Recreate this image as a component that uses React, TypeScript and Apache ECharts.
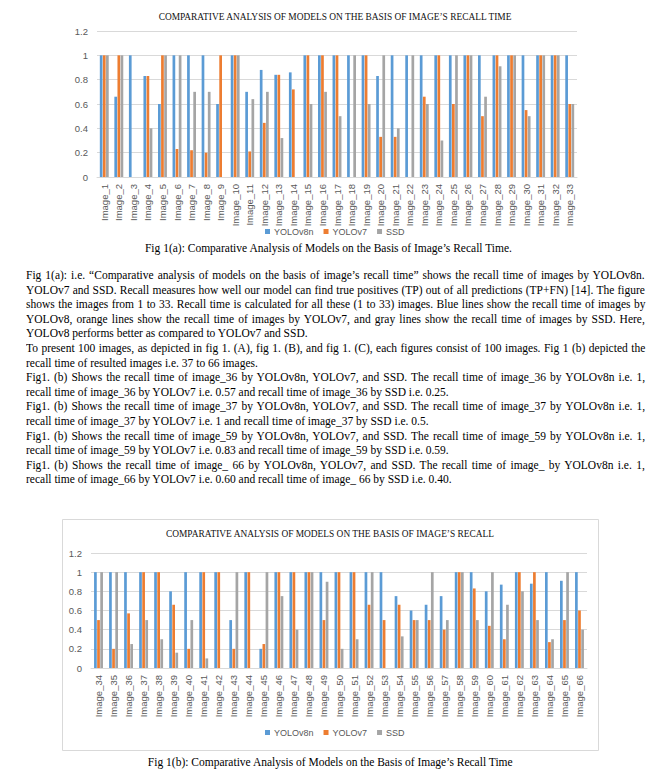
import React, { useEffect, useLayoutEffect, useRef } from "react";
import * as echarts from "echarts";

const SERIES_NAMES = ["YOLOv8n", "YOLOv7", "SSD"];
const SERIES_COLORS = ["#5B9BD5", "#ED7D31", "#A5A5A5"];

const TITLE_A = "COMPARATIVE ANALYSIS OF MODELS ON THE BASIS OF IMAGE’S RECALL TIME";
const TITLE_B = "COMPARATIVE ANALYSIS OF MODELS ON THE BASIS OF IMAGE’S RECALL";

const categoriesA = [
  "Image_1", "Image_2", "Image_3", "Image_4", "Image_5", "Image_6", "Image_7", "Image_8", "Image_9",
  "Image_10", "Image_11", "Image_12", "Image_13", "Image_14", "Image_15", "Image_16", "Image_17",
  "Image_18", "Image_19", "Image_20", "Image_21", "Image_22", "Image_23", "Image_24", "Image_25",
  "Image_26", "Image_27", "Image_28", "Image_29", "Image_30", "Image_31", "Image_32", "Image_33",
];
const yolov8nA = [1, 0.66, 1, 0.83, 0.6, 1, 1, 1, 0.6, 1, 0.7, 0.88, 0.84, 0.86, 1, 1, 1, 1, 1, 0.83, 1, 1, 1, 1, 1, 1, 1, 1, 1, 1, 1, 1, 1];
const yolov7A = [1, 1, 0, 0.83, 1, 0.23, 0.22, 0.2, 1, 1, 0.21, 0.445, 0.84, 0.72, 1, 1, 1, 0, 1, 0.33, 0.33, 0, 0.66, 1, 0.6, 1, 0.5, 1, 1, 0.55, 1, 1, 0.6];
const ssdA = [1, 1, 0, 0.4, 1, 1, 0.7, 0.7, 0, 1, 0.64, 0.7, 0.32, 0, 0.6, 0.7, 0.5, 1, 0.6, 1, 0.4, 1, 0.6, 0.3, 1, 1, 0.66, 0.91, 1, 0.5, 1, 1, 0.6];

const categoriesB = [
  "Image_34", "Image_35", "Image_36", "Image_37", "Image_38", "Image_39", "Image_40", "Image_41",
  "Image_42", "Image_43", "Image_44", "Image_45", "Image_46", "Image_47", "Image_48", "Image_49",
  "Image_50", "Image_51", "Image_52", "Image_53", "Image_54", "Image_55", "Image_56", "Image_57",
  "Image_58", "Image_59", "Image_60", "Image_61", "Image_62", "Image_63", "Image_64", "Image_65", "Image_66",
];
const yolov8nB = [1, 1, 1, 1, 1, 0.8, 1, 1, 1, 0.5, 1, 0.2, 1, 1, 1, 1, 1, 1, 1, 1, 0.75, 0.6, 0.66, 0.75, 1, 1, 0.8, 0.87, 1, 0.88, 1, 0.91, 1];
const yolov7B = [0.5, 0.2, 0.57, 1, 1, 0.66, 0.2, 1, 1, 0.2, 1, 0.25, 1, 1, 1, 0.5, 1, 1, 0.66, 0.5, 0.66, 0.5, 0.5, 0.4, 1, 0.83, 0.44, 0.3, 1, 1, 0.27, 0.5, 0.6];
const ssdB = [1, 1, 0.25, 0.5, 0.3, 0.16, 0.5, 0.1, 0, 1, 0, 1, 0.75, 0.4, 1, 0.9, 0.2, 0.3, 1, 0, 0.33, 0.5, 1, 0.5, 1, 0.5, 1, 0.66, 0.8, 0.5, 0.3, 1, 0.4];

const Y_MIN = 0;
const Y_MAX = 1.2;
const Y_STEP = 0.2;

const CAPTION_A = "Fig 1(a): Comparative Analysis of Models on the Basis of Image’s Recall Time.";
const CAPTION_B = "Fig 1(b): Comparative Analysis of Models on the Basis of Image’s Recall Time";

const PARA_LINES: { t: string; j: boolean }[] = [
  { t: "Fig 1(a): i.e. “Comparative analysis of models on the basis of image’s recall time” shows the recall time of images by YOLOv8n.", j: true },
  { t: "YOLOv7 and SSD. Recall measures how well our model can find true positives (TP) out of all predictions (TP+FN) [14]. The figure", j: true },
  { t: "shows the images from 1 to 33. Recall time is calculated for all these (1 to 33) images. Blue lines show the recall time of images by", j: true },
  { t: "YOLOv8, orange lines show the recall time of images by YOLOv7, and gray lines show the recall time of images by SSD. Here,", j: true },
  { t: "YOLOv8 performs better as compared to YOLOv7 and SSD.", j: false },
  { t: "To present 100 images, as depicted in fig 1. (A), fig 1. (B), and fig 1. (C), each figures consist of 100 images. Fig 1 (b) depicted the", j: true },
  { t: "recall time of resulted images i.e. 37 to 66 images.", j: false },
  { t: "Fig1. (b) Shows the recall time of image_36 by YOLOv8n, YOLOv7, and SSD. The recall time of image_36 by YOLOv8n i.e. 1,", j: true },
  { t: "recall time of image_36 by YOLOv7 i.e. 0.57 and recall time of image_36 by SSD i.e. 0.25.", j: false },
  { t: "Fig1. (b) Shows the recall time of image_37 by YOLOv8n, YOLOv7, and SSD. The recall time of image_37 by YOLOv8n i.e. 1,", j: true },
  { t: "recall time of image_37 by YOLOv7 i.e. 1 and recall time of image_37 by SSD i.e. 0.5.", j: false },
  { t: "Fig1. (b) Shows the recall time of image_59 by YOLOv8n, YOLOv7, and SSD. The recall time of image_59 by YOLOv8n i.e. 1,", j: true },
  { t: "recall time of image_59 by YOLOv7 i.e. 0.83 and recall time of image_59 by SSD i.e. 0.59.", j: false },
  { t: "Fig1. (b) Shows the recall time of image_ 66 by YOLOv8n, YOLOv7, and SSD. The recall time of image_ by YOLOv8n i.e. 1,", j: true },
  { t: "recall time of image_66 by YOLOv7 i.e. 0.60 and recall time of image_ 66 by SSD i.e. 0.40.", j: false },
];

const SERIF = "'Liberation Serif', 'Times New Roman', serif";
const SANS = "'Liberation Sans', Arial, sans-serif";

type ChartCfg = {
  categories: string[];
  values: number[][];
  title: string;
  titleX: number;
  titleY: number;
  grid: { left: number; right: number; top: number; height: number };
  legendLeft: number;
  legendTop: number;
  border?: { w: number; h: number };
};

function makeOption(c: ChartCfg) {
  const graphic: any[] = [
    {
      type: "text",
      x: c.titleX,
      y: c.titleY,
      style: {
        text: c.title,
        fontSize: 9.4,
        fontFamily: SERIF,
        fill: "#111",
        align: "center",
        verticalAlign: "middle",
      },
    },
  ];
  if (c.border) {
    graphic.push({
      type: "rect",
      shape: { x: 0.5, y: 0.5, width: c.border.w - 1, height: c.border.h - 1 },
      style: { fill: "none", stroke: "#D9D9D9", lineWidth: 1 },
      silent: true,
    });
  }
  return {
    animation: false,
    graphic,
    legend: {
      data: SERIES_NAMES,
      left: c.legendLeft,
      top: c.legendTop,
      padding: 0,
      icon: "rect",
      itemWidth: 5,
      itemHeight: 5,
      itemGap: 10,
      textStyle: { fontSize: 9, color: "#595959", fontFamily: SANS, padding: [0, 0, 0, -1] },
    },
    grid: { ...c.grid, containLabel: false, outerBoundsMode: "none" },
    xAxis: {
      type: "category",
      data: c.categories,
      axisLine: { show: true, lineStyle: { color: "#D9D9D9", width: 1 } },
      axisTick: { show: false },
      axisLabel: {
        rotate: 90,
        interval: 0,
        fontSize: 9.5,
        color: "#595959",
        fontFamily: SANS,
        margin: 7,
      },
    },
    yAxis: {
      type: "value",
      min: Y_MIN,
      max: Y_MAX,
      interval: Y_STEP,
      axisLine: { show: false },
      axisTick: { show: false },
      axisLabel: { fontSize: 9.5, color: "#595959", fontFamily: SANS, margin: 9 },
      splitLine: { lineStyle: { color: "#D9D9D9", width: 1 } },
    },
    series: SERIES_NAMES.map((name, i) => ({
      name,
      type: "bar",
      data: c.values[i],
      barWidth: 2.7,
      barGap: "15%",
      itemStyle: { color: SERIES_COLORS[i] },
    })),
  };
}

function Chart({ cfg, style }: { cfg: ChartCfg; style: React.CSSProperties }) {
  const ref = useRef<HTMLDivElement>(null);
  useEffect(() => {
    if (!ref.current) return;
    const chart = echarts.init(ref.current, undefined, { renderer: "svg" });
    chart.setOption(makeOption(cfg) as any);
    return () => chart.dispose();
  }, []);
  return <div ref={ref} style={style} />;
}

const TEXT_LEFT = 26;
const TEXT_WIDTH = 619;
const LINE_TOP = 268;
const LINE_H = 14.6;
const FONT_PX = 12.5;
const SQUEEZE = 0.92;

function Paragraphs() {
  const refs = useRef<(HTMLSpanElement | null)[]>([]);
  useLayoutEffect(() => {
    refs.current.forEach((el, i) => {
      if (!el) return;
      const line = PARA_LINES[i];
      el.style.wordSpacing = "0px";
      el.style.transform = "none";
      const w = el.offsetWidth;
      const target = TEXT_WIDTH / SQUEEZE;
      let scale = SQUEEZE;
      if (line.j) {
        if (w < target) {
          const spaces = (line.t.match(/ /g) || []).length;
          el.style.wordSpacing = `${(target - w) / spaces}px`;
        } else {
          scale = TEXT_WIDTH / w;
        }
      } else if (w * SQUEEZE > TEXT_WIDTH) {
        scale = TEXT_WIDTH / w;
      }
      el.style.transform = `scaleX(${scale})`;
    });
  }, []);
  return (
    <>
      {PARA_LINES.map((l, i) => (
        <div
          key={i}
          style={{
            position: "absolute",
            left: TEXT_LEFT,
            top: LINE_TOP + i * LINE_H,
            height: LINE_H,
            lineHeight: `${LINE_H}px`,
            whiteSpace: "nowrap",
            fontFamily: SERIF,
            fontSize: FONT_PX,
            color: "#000",
          }}
        >
          <span
            ref={(el) => {
              refs.current[i] = el;
            }}
            style={{ display: "inline-block", transformOrigin: "left center" }}
          >
            {l.t}
          </span>
        </div>
      ))}
    </>
  );
}

function Caption({ text, cy, cx }: { text: string; cy: number; cx: number }) {
  return (
    <div
      style={{
        position: "absolute",
        left: cx - 400,
        width: 800,
        top: cy - 8,
        height: 16,
        lineHeight: "16px",
        textAlign: "center",
        whiteSpace: "nowrap",
        fontFamily: SERIF,
        fontSize: FONT_PX,
        color: "#000",
      }}
    >
      <span style={{ display: "inline-block", transform: `scaleX(${SQUEEZE})`, transformOrigin: "center" }}>{text}</span>
    </div>
  );
}

const cfgA: ChartCfg = {
  categories: categoriesA,
  values: [yolov8nA, yolov7A, ssdA],
  title: TITLE_A,
  titleX: 335,
  titleY: 17,
  grid: { left: 97, right: 80, top: 31, height: 146 },
  legendLeft: 265,
  legendTop: 227,
};

const cfgB: ChartCfg = {
  categories: categoriesB,
  values: [yolov8nB, yolov7B, ssdB],
  title: TITLE_B,
  titleX: 268,
  titleY: 15,
  grid: { left: 29, right: 12, top: 34, height: 115 },
  legendLeft: 203,
  legendTop: 209,
  border: { w: 537, h: 232 },
};

export default function App() {
  return (
    <div
      style={{
        position: "absolute",
        left: 0,
        top: 0,
        width: 657,
        height: 773,
        background: "#fff",
        overflow: "hidden",
      }}
    >
      <Chart cfg={cfgA} style={{ position: "absolute", left: 0, top: 0, width: 657, height: 240 }} />
      <Caption text={CAPTION_A} cy={248} cx={328} />
      <Paragraphs />
      <Chart cfg={cfgB} style={{ position: "absolute", left: 62, top: 519, width: 537, height: 232 }} />
      <Caption text={CAPTION_B} cy={762} cx={330} />
    </div>
  );
}
